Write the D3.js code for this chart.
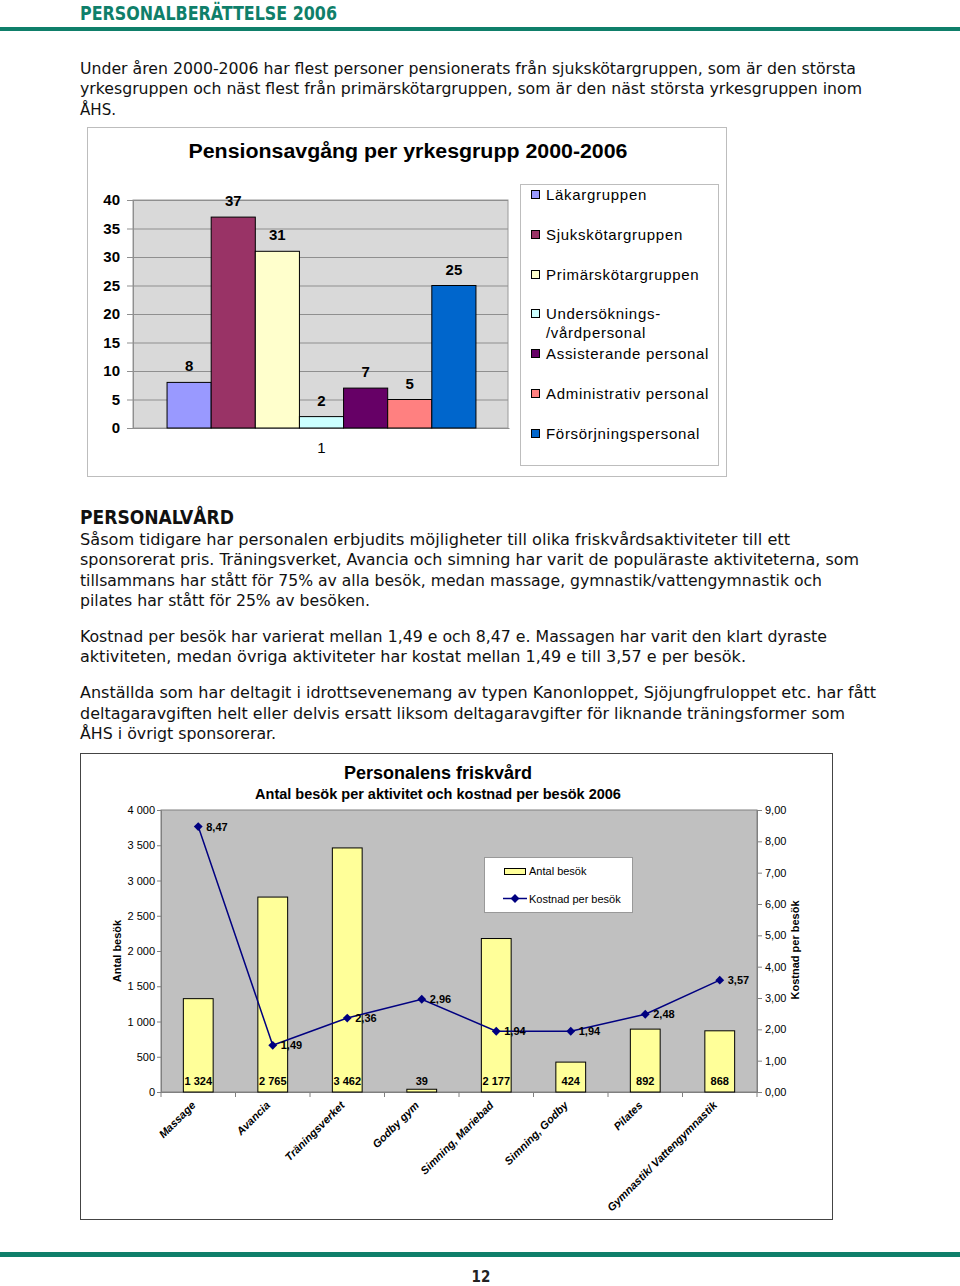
<!DOCTYPE html>
<html><head><meta charset="utf-8">
<script src="https://cdn.jsdelivr.net/npm/d3@7"></script>
<style>html,body{margin:0;padding:0;background:#fff;}svg{display:block;}</style>
</head><body>
<script>
// ---------- DATA ----------
const pageHeader = "PERSONALBERÄTTELSE 2006";
const introLines = [
  "Under åren 2000-2006 har flest personer pensionerats från sjukskötargruppen, som är den största",
  "yrkesgruppen och näst flest från primärskötargruppen, som är den näst största yrkesgruppen inom",
  "ÅHS."
];
const sectionHeading = "PERSONALVÅRD";
const bodyParagraphs = [
  ["Såsom tidigare har personalen erbjudits möjligheter till olika friskvårdsaktiviteter till ett",
   "sponsorerat pris. Träningsverket, Avancia och simning har varit de populäraste aktiviteterna, som",
   "tillsammans har stått för 75% av alla besök, medan massage, gymnastik/vattengymnastik och",
   "pilates har stått för 25% av besöken."],
  ["Kostnad per besök har varierat mellan 1,49 e och 8,47 e. Massagen har varit den klart dyraste",
   "aktiviteten, medan övriga aktiviteter har kostat mellan 1,49 e till 3,57 e per besök."],
  ["Anställda som har deltagit i idrottsevenemang av typen Kanonloppet, Sjöjungfruloppet etc. har fått",
   "deltagaravgiften helt eller delvis ersatt liksom deltagaravgifter för liknande träningsformer som",
   "ÅHS i övrigt sponsorerar."]
];
const pageNumber = "12";

// Chart 1
const chart1Title = "Pensionsavgång per yrkesgrupp 2000-2006";
const chart1Category = ["1"];
const groups1 = ["Läkargruppen","Sjukskötargruppen","Primärskötargruppen","Undersöknings-/vårdpersonal","Assisterande personal","Administrativ personal","Försörjningspersonal"];
const legendLabels1 = [["Läkargruppen"],["Sjukskötargruppen"],["Primärskötargruppen"],["Undersöknings-","/vårdpersonal"],["Assisterande personal"],["Administrativ personal"],["Försörjningspersonal"]];
const values1 = [8,37,31,2,7,5,25];
const ticks1 = [0,5,10,15,20,25,30,35,40];
const colors1 = ["#9999ff","#993366","#ffffcc","#ccffff","#660066","#ff8080","#0066cc"];

// Chart 2
const chart2Title = "Personalens friskvård";
const chart2Subtitle = "Antal besök per aktivitet och kostnad per besök 2006";
const activities = ["Massage","Avancia","Träningsverket","Godby gym","Simning, Mariebad","Simning, Godby","Pilates","Gymnastik/ Vattengymnastik"];
const visits = [1324,2765,3462,39,2177,424,892,868];
const costs = [8.47,1.49,2.36,2.96,1.94,1.94,2.48,3.57];
const visitTicks = [0,500,1000,1500,2000,2500,3000,3500,4000];
const costTicks = [0,1,2,3,4,5,6,7,8,9];
const seriesNames2 = ["Antal besök","Kostnad per besök"];

// ---------- DRAW ----------
const W = 960, H = 1286;
const teal = "#0f7f6a";
const svg = d3.select("body").append("svg").attr("width", W).attr("height", H);
svg.append("rect").attr("width", W).attr("height", H).attr("fill", "#fff");

// header
svg.append("text").attr("x", 80).attr("y", 20).text(pageHeader)
  .attr("font-family","DejaVu Sans Condensed, DejaVu Sans").attr("font-weight","bold")
  .attr("font-size", 19).attr("fill", teal)
  .attr("textLength", 257).attr("lengthAdjust","spacingAndGlyphs");
svg.append("rect").attr("x",0).attr("y",27).attr("width",W).attr("height",4).attr("fill",teal);
svg.append("rect").attr("x",0).attr("y",1252).attr("width",W).attr("height",5).attr("fill",teal);
svg.append("text").attr("x",481).attr("y",1282).attr("text-anchor","middle").text(pageNumber)
  .attr("font-family","DejaVu Sans Condensed").attr("font-weight","bold").attr("font-size",15).attr("fill","#222");

// body text
const introW = [776, 782, 36];
const introY = [74, 94, 115];
introLines.forEach((t,i)=>{
  svg.append("text").attr("x",80).attr("y",introY[i]).text(t)
    .attr("font-family","DejaVu Sans").attr("font-size",16).attr("fill","#111")
    .attr("textLength", introW[i]).attr("lengthAdjust","spacingAndGlyphs");
});
svg.append("text").attr("x",80).attr("y",524).text(sectionHeading)
  .attr("font-family","DejaVu Sans Condensed").attr("font-weight","bold").attr("font-size",20).attr("fill","#111")
  .attr("textLength",154).attr("lengthAdjust","spacingAndGlyphs");
const bodyW = [[710,779,742,290],[747,666],[796,765,196]];
const bodyY = [[545,565,586,606],[642,662],[698,719,739]];
bodyParagraphs.forEach((p,pi)=>p.forEach((t,i)=>{
  svg.append("text").attr("x",80).attr("y",bodyY[pi][i]).text(t)
    .attr("font-family","DejaVu Sans Condensed").attr("font-size",16.5).attr("fill","#111")
    .attr("textLength", bodyW[pi][i]).attr("lengthAdjust","spacingAndGlyphs");
}));

// ---------- CHART 1 ----------
const c1 = svg.append("g");
c1.append("rect").attr("x",87.5).attr("y",127.5).attr("width",639).attr("height",349)
  .attr("fill","#fff").attr("stroke","#bdbdbd");
c1.append("text").attr("x",408).attr("y",158).attr("text-anchor","middle").text(chart1Title)
  .attr("font-family","Liberation Sans").attr("font-weight","bold").attr("font-size",20)
  .attr("textLength",439).attr("lengthAdjust","spacingAndGlyphs").attr("fill","#000");

const p1 = {l:133, r:508, t:200, b:428};
const y1 = d3.scaleLinear().domain([0,40]).range([p1.b,p1.t]);
const x1 = d3.scaleBand().domain(chart1Category).range([p1.l+1,p1.r+1]).paddingInner(0).paddingOuter(0.107);
const xg1 = d3.scaleBand().domain(groups1).range([0,x1.bandwidth()]);
c1.append("rect").attr("x",p1.l).attr("y",p1.t).attr("width",p1.r-p1.l).attr("height",p1.b-p1.t)
  .attr("fill","#d9d9d9").attr("stroke","#9a9a9a");
// grid
c1.append("g").selectAll("line").data(ticks1).join("line")
  .attr("x1",p1.l).attr("x2",p1.r).attr("y1",d=>y1(d)+0.5).attr("y2",d=>y1(d)+0.5)
  .attr("stroke","#8f8f8f").attr("stroke-width",1);
// y axis
const ya1 = c1.append("g").attr("transform",`translate(${p1.l},0)`)
  .call(d3.axisLeft(y1).tickValues(ticks1).tickSize(6).tickPadding(7));
ya1.select(".domain").attr("stroke","#8f8f8f");
ya1.selectAll(".tick line").attr("stroke","#8f8f8f");
ya1.selectAll("text").attr("font-family","Liberation Sans").attr("font-weight","bold").attr("font-size",15).attr("fill","#000");
// x axis
const xa1 = c1.append("g").attr("transform",`translate(0,${p1.b})`)
  .call(d3.axisBottom(x1).tickSize(0).tickPadding(14));
xa1.select(".domain").attr("stroke","#8f8f8f");
xa1.selectAll("text").attr("font-family","Liberation Sans").attr("font-size",15).attr("fill","#000");
// bars
const bars1 = c1.append("g").attr("transform",`translate(${x1(chart1Category[0])},0)`);
bars1.selectAll("rect").data(values1).join("rect")
  .attr("x",(d,i)=>xg1(groups1[i])).attr("width",xg1.bandwidth())
  .attr("y",d=>y1(d)).attr("height",d=>y1(0)-y1(d))
  .attr("fill",(d,i)=>colors1[i]).attr("stroke","#000").attr("stroke-width",1);
bars1.selectAll("text").data(values1).join("text")
  .attr("x",(d,i)=>xg1(groups1[i])+xg1.bandwidth()/2).attr("y",d=>y1(d)-11)
  .attr("text-anchor","middle").text(d=>d)
  .attr("font-family","Liberation Sans").attr("font-weight","bold").attr("font-size",15);
// legend
const lg1 = c1.append("g");
lg1.append("rect").attr("x",520.5).attr("y",184.5).attr("width",198).attr("height",281)
  .attr("fill","#fff").attr("stroke","#bdbdbd");
const legY1 = [195,235,275,314,354,394,434];
legendLabels1.forEach((lines,i)=>{
  lg1.append("rect").attr("x",531.5).attr("y",legY1[i]-4.5).attr("width",8).attr("height",8)
    .attr("fill",colors1[i]).attr("stroke","#000");
  lines.forEach((t,j)=>{
    lg1.append("text").attr("x",546).attr("y",legY1[i]+5+j*19).text(t)
      .attr("font-family","Liberation Sans").attr("font-size",15).attr("letter-spacing",0.7).attr("fill","#000");
  });
});

// ---------- CHART 2 ----------
const c2 = svg.append("g");
c2.append("rect").attr("x",80.5).attr("y",753.5).attr("width",752).attr("height",466)
  .attr("fill","#fff").attr("stroke","#444");
c2.append("text").attr("x",438).attr("y",779).attr("text-anchor","middle").text(chart2Title)
  .attr("font-family","Liberation Sans").attr("font-weight","bold").attr("font-size",18);
c2.append("text").attr("x",438).attr("y",799).attr("text-anchor","middle").text(chart2Subtitle)
  .attr("font-family","Liberation Sans").attr("font-weight","bold").attr("font-size",14.5);

const p2 = {l:161, r:757, t:810, b:1092};
const y2a = d3.scaleLinear().domain([0,4000]).range([p2.b,p2.t]);
const y2b = d3.scaleLinear().domain([0,9]).range([p2.b,p2.t]);
const x2 = d3.scaleBand().domain(activities).range([p2.l,p2.r]).paddingInner(0.6).paddingOuter(0.3);
const fmtThousands = d3.formatLocale({decimal:",",thousands:"\u00a0",grouping:[3],currency:["","€"]});
const fmtV = fmtThousands.format(",d");
const fmtC = fmtThousands.format(".2f");

c2.append("rect").attr("x",p2.l).attr("y",p2.t).attr("width",p2.r-p2.l).attr("height",p2.b-p2.t)
  .attr("fill","#c0c0c0").attr("stroke","#808080");
// axes
const ya2 = c2.append("g").attr("transform",`translate(${p2.l},0)`)
  .call(d3.axisLeft(y2a).tickValues(visitTicks).tickFormat(fmtV).tickSize(4).tickPadding(2));
const yb2 = c2.append("g").attr("transform",`translate(${p2.r},0)`)
  .call(d3.axisRight(y2b).tickValues(costTicks).tickFormat(fmtC).tickSize(5).tickPadding(3));
[ya2,yb2].forEach(a=>{
  a.select(".domain").attr("stroke","#808080");
  a.selectAll(".tick line").attr("stroke","#808080");
  a.selectAll("text").attr("font-family","Liberation Sans").attr("font-size",11).attr("fill","#000");
});
// x axis with ticks between categories
c2.append("line").attr("x1",p2.l).attr("x2",p2.r).attr("y1",p2.b+0.5).attr("y2",p2.b+0.5).attr("stroke","#808080");
const step = x2.step();
c2.append("g").selectAll("line").data(d3.range(activities.length+1)).join("line")
  .attr("x1",i=>p2.l+i*step).attr("x2",i=>p2.l+i*step).attr("y1",p2.b).attr("y2",p2.b+5).attr("stroke","#808080");
c2.append("g").selectAll("text").data(activities).join("text")
  .attr("transform",d=>`translate(${x2(d)+x2.bandwidth()/2-2},${p2.b+14}) rotate(-45)`)
  .attr("text-anchor","end").text(d=>d)
  .attr("font-family","Liberation Sans").attr("font-size",11).attr("font-style","italic").attr("font-weight","bold");
// axis titles
c2.append("text").attr("transform",`translate(121,951) rotate(-90)`).attr("text-anchor","middle").text(seriesNames2[0])
  .attr("font-family","Liberation Sans").attr("font-weight","bold").attr("font-size",11);
c2.append("text").attr("transform",`translate(799,950) rotate(-90)`).attr("text-anchor","middle").text(seriesNames2[1])
  .attr("font-family","Liberation Sans").attr("font-weight","bold").attr("font-size",11);
// bars
c2.append("g").selectAll("rect").data(visits).join("rect")
  .attr("x",(d,i)=>x2(activities[i])).attr("width",x2.bandwidth())
  .attr("y",d=>y2a(d)).attr("height",d=>y2a(0)-y2a(d))
  .attr("fill","#ffff99").attr("stroke","#000");
c2.append("g").selectAll("text").data(visits).join("text")
  .attr("x",(d,i)=>x2(activities[i])+x2.bandwidth()/2).attr("y",p2.b-7)
  .attr("text-anchor","middle").text(d=>fmtV(d))
  .attr("font-family","Liberation Sans").attr("font-weight","bold").attr("font-size",11);
// line
const cx = i=>x2(activities[i])+x2.bandwidth()/2;
const line = d3.line().x((d,i)=>cx(i)).y(d=>y2b(d));
c2.append("path").datum(costs).attr("d",line).attr("fill","none").attr("stroke","#000080").attr("stroke-width",1.5);
const diamond = d3.symbol().type(d3.symbolDiamond2).size(50);
c2.append("g").selectAll("path").data(costs).join("path")
  .attr("d",diamond).attr("transform",(d,i)=>`translate(${cx(i)},${y2b(d)})`).attr("fill","#000080");
c2.append("g").selectAll("text").data(costs).join("text")
  .attr("x",(d,i)=>cx(i)+8).attr("y",d=>y2b(d)+4).text(d=>fmtC(d))
  .attr("font-family","Liberation Sans").attr("font-weight","bold").attr("font-size",11);
// legend
const lg2 = c2.append("g");
lg2.append("rect").attr("x",484.5).attr("y",857.5).attr("width",148).attr("height",55).attr("fill","#fff").attr("stroke","#999");
lg2.append("rect").attr("x",504.5).attr("y",868.5).attr("width",21).attr("height",6).attr("fill","#ffff99").attr("stroke","#000");
lg2.append("text").attr("x",529).attr("y",875).text(seriesNames2[0]).attr("font-family","Liberation Sans").attr("font-size",11);
lg2.append("line").attr("x1",503).attr("x2",527).attr("y1",898.5).attr("y2",898.5).attr("stroke","#000080").attr("stroke-width",1.5);
lg2.append("path").attr("d",diamond).attr("transform","translate(515,898.5)").attr("fill","#000080");
lg2.append("text").attr("x",529).attr("y",903).text(seriesNames2[1]).attr("font-family","Liberation Sans").attr("font-size",11);
</script>
</body></html>
